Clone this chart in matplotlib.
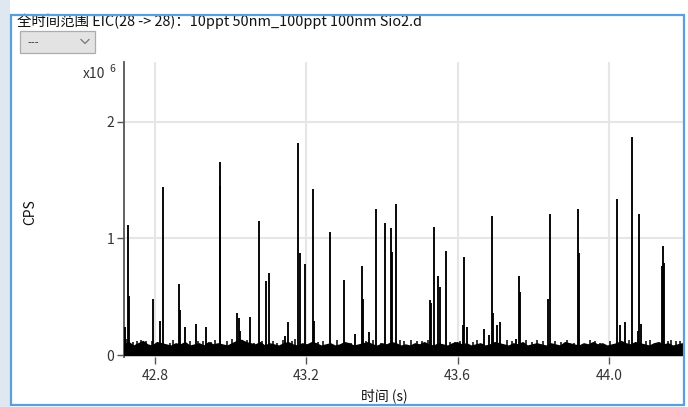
import numpy as np
import matplotlib
matplotlib.use("Agg")
import matplotlib.pyplot as plt
from matplotlib.patches import Rectangle
from matplotlib.lines import Line2D

plt.rcParams['font.family'] = ['Noto Sans CJK SC', 'DejaVu Sans']

# ---- data (CPS in units of 1e6, time in s) ----
title = "全时间范围 EIC(28 -> 28)：10ppt 50nm_100ppt 100nm Sio2.d"
x_ticks = [42.8, 43.2, 43.6, 44.0]
y_ticks = [0, 1, 2]

peak_time = [42.720, 42.728, 42.731, 42.794, 42.813, 42.820, 42.863, 42.865,
             42.880, 42.908, 42.935, 42.971, 42.973, 43.016, 43.021, 43.025,
             43.050, 43.074, 43.093, 43.101, 43.144, 43.152, 43.179, 43.182,
             43.196, 43.218, 43.220, 43.262, 43.299, 43.329, 43.346, 43.349,
             43.366, 43.384, 43.409, 43.424, 43.426, 43.438, 43.526, 43.529,
             43.537, 43.548, 43.553, 43.569, 43.615, 43.617, 43.625, 43.669,
             43.683, 43.692, 43.693, 43.703, 43.711, 43.754, 43.763, 43.765,
             43.839, 43.845, 43.919, 43.921, 44.021, 44.028, 44.042, 44.062,
             44.076, 44.080, 44.084, 44.139, 44.143, 44.145]
peak_cps = [0.24, 1.11, 0.51, 0.48, 0.29, 1.44, 0.61, 0.39,
            0.24, 0.27, 0.24, 1.45, 1.65, 0.36, 0.32, 0.21,
            0.33, 1.15, 0.63, 0.70, 0.16, 0.28, 1.82, 0.87,
            0.78, 1.42, 0.29, 1.05, 0.64, 0.18, 0.76, 0.48,
            0.20, 1.25, 1.13, 1.09, 0.88, 1.29, 0.47, 0.45,
            1.10, 0.68, 0.58, 0.89, 0.26, 0.84, 0.24, 0.22,
            0.17, 1.19, 0.36, 0.26, 0.28, 0.14, 0.68, 0.54,
            0.48, 1.21, 1.25, 0.87, 1.34, 0.26, 0.28, 1.87,
            0.21, 1.21, 0.27, 0.76, 0.93, 0.79]

minor_time = [42.724, 42.742, 42.752, 42.763, 42.776, 42.792, 42.839, 42.848,
              42.892, 42.914, 42.926, 42.948, 42.958, 42.990, 43.003, 43.010,
              43.036, 43.044, 43.062, 43.084, 43.112, 43.122, 43.139, 43.162,
              43.170, 43.231, 43.244, 43.281, 43.306, 43.318, 43.358, 43.376,
              43.397, 43.447, 43.458, 43.477, 43.492, 43.505, 43.521, 43.581,
              43.592, 43.605, 43.640, 43.652, 43.731, 43.744, 43.780, 43.797,
              43.811, 43.826, 43.856, 43.873, 43.890, 43.908, 43.949, 43.962,
              43.977, 44.003, 44.052, 44.098, 44.108, 44.126, 44.156, 44.165,
              44.178, 44.188]
minor_cps = [0.14, 0.11, 0.12, 0.13, 0.12, 0.12, 0.10, 0.13,
             0.12, 0.12, 0.12, 0.11, 0.13, 0.12, 0.14, 0.10,
             0.10, 0.13, 0.10, 0.12, 0.12, 0.10, 0.13, 0.12,
             0.14, 0.11, 0.12, 0.13, 0.10, 0.10, 0.12, 0.13,
             0.10, 0.13, 0.12, 0.13, 0.12, 0.12, 0.13, 0.11,
             0.11, 0.12, 0.11, 0.13, 0.13, 0.12, 0.13, 0.11,
             0.13, 0.12, 0.12, 0.11, 0.13, 0.10, 0.13, 0.12,
             0.10, 0.12, 0.13, 0.12, 0.13, 0.10, 0.12, 0.13,
             0.12, 0.12]

# noise floor of the trace, sampled evenly over the acquisition window
base_cps = [
    0.09, 0.11, 0.08, 0.10, 0.12, 0.09, 0.08, 0.11, 0.10, 0.09,
    0.08, 0.10, 0.09, 0.11, 0.08, 0.09, 0.10, 0.08, 0.11, 0.09,
    0.10, 0.09, 0.08, 0.10, 0.12, 0.13, 0.11, 0.10, 0.09, 0.11,
    0.08, 0.10, 0.09, 0.08, 0.10, 0.11, 0.09, 0.08, 0.10, 0.09,
    0.11, 0.10, 0.08, 0.09, 0.10, 0.08, 0.09, 0.11, 0.10, 0.08,
    0.09, 0.10, 0.11, 0.09, 0.08, 0.10, 0.09, 0.11, 0.10, 0.08,
    0.09, 0.08, 0.10, 0.09, 0.11, 0.09, 0.08, 0.10, 0.09, 0.08,
    0.10, 0.11, 0.09, 0.10, 0.08, 0.09, 0.10, 0.08, 0.09, 0.11,
    0.10, 0.09, 0.08, 0.10, 0.09, 0.11, 0.08, 0.09, 0.10, 0.09,
    0.08, 0.10, 0.09, 0.08, 0.11, 0.10, 0.09, 0.08, 0.10, 0.09,
    0.11, 0.09, 0.10, 0.08, 0.09, 0.10, 0.12, 0.10, 0.09, 0.11,
    0.10, 0.09, 0.08, 0.10, 0.11, 0.09, 0.10, 0.08, 0.09, 0.10]
t_start, t_end = 42.718, 44.193

# ---- figure ----
W, H = 688, 407
fig = plt.figure(figsize=(W / 100, H / 100), dpi=100)
fig.patch.set_facecolor('white')

def fx(px):
    return px / W

def fy(py):
    return 1 - py / H

# panel chrome: left strip and blue frame
fig.patches.append(Rectangle((0, 0), fx(10), 1, transform=fig.transFigure,
                             facecolor='#dfe7f0', edgecolor='none', zorder=0))
fig.patches.append(Rectangle((fx(10.5), fy(405)), fx(673.5), fy(15) - fy(405),
                             transform=fig.transFigure, facecolor='none',
                             edgecolor='#5a9ee0', lw=1.6, zorder=5))

fig.text(fx(17), fy(21), title, fontsize=10.4, color='#111111', va='center', ha='left')

# dropdown selector
fig.patches.append(Rectangle((fx(20), fy(53)), fx(75), fy(31) - fy(53),
                             transform=fig.transFigure, facecolor='#e3e3e3',
                             edgecolor='#acacac', lw=0.9, zorder=2))
fig.text(fx(27), fy(43), "---", fontsize=8, color='#333333', va='center', ha='left')
fig.lines.append(Line2D([fx(81), fx(85), fx(89)], [fy(39.5), fy(43.5), fy(39.5)],
                        transform=fig.transFigure, color='#777777', lw=0.9,
                        zorder=6))

# plot area
ax = fig.add_axes([fx(124), fy(357), fx(683 - 124), fy(62) - fy(357)])
ax.set_xlim(t_start, 44.1956)
ax.set_ylim(-0.017, 2.511)

t_base = np.linspace(t_start, t_end, len(base_cps))
ax.fill_between(t_base, 0, base_cps, color='black', lw=1.0, edgecolor='black', zorder=3)
ax.vlines(minor_time, 0, minor_cps, color='black', lw=1.1, zorder=3)
ax.vlines(peak_time, 0, peak_cps, color='black', lw=1.35, zorder=4)

ax.set_xticks(x_ticks)
ax.set_xticklabels([f"{v:.1f}" for v in x_ticks])
ax.set_yticks(y_ticks)
ax.set_yticklabels([str(v) for v in y_ticks])
ax.grid(True, color='#e6e6e6', lw=1.5, zorder=0)
ax.set_axisbelow(True)

for s in ['top', 'right', 'bottom']:
    ax.spines[s].set_visible(False)
ax.spines['left'].set_color('#555555')
ax.spines['left'].set_linewidth(1.3)
ax.tick_params(axis='both', colors='#555555', labelcolor='#333333',
               labelsize=10, length=5, width=1)
ax.tick_params(axis='x', pad=4)
ax.tick_params(axis='y', pad=2)

# exponent and axis titles
fig.text(fx(83), fy(74), "x10", fontsize=10, color='#333333', va='center', ha='left')
fig.text(fx(109), fy(69), "6", fontsize=7.5, color='#333333', va='center', ha='left')
fig.text(fx(30), fy(212), "CPS", fontsize=10, color='#111111', rotation=90,
         va='center', ha='center')
fig.text(fx(384), fy(396), "时间 (s)", fontsize=10, color='#111111',
         va='center', ha='center')

fig.savefig("out.png", dpi=100)
